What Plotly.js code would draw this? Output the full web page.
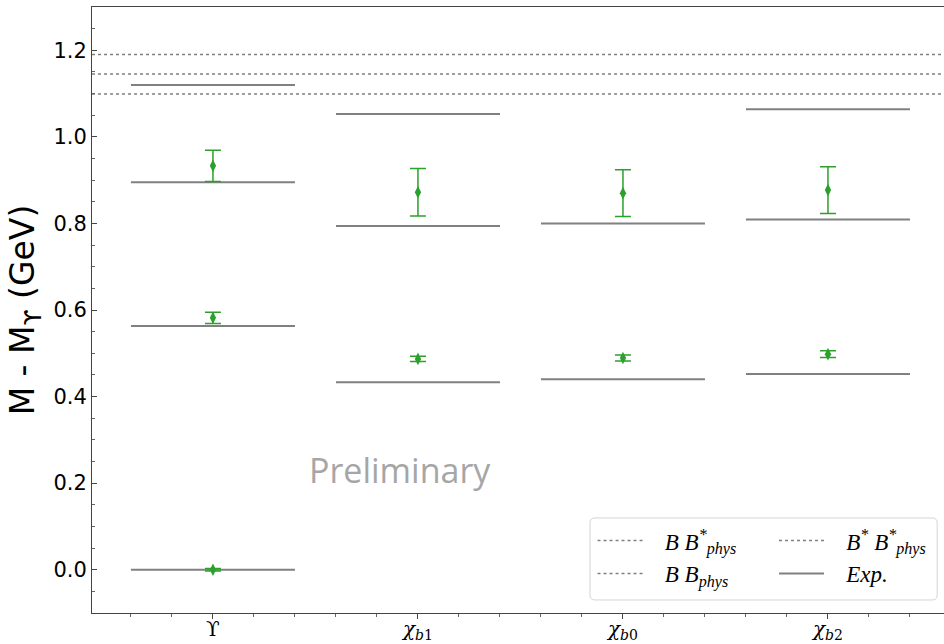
<!DOCTYPE html>
<html>
<head>
<meta charset="utf-8">
<script src="https://cdn.plot.ly/plotly-3.0.1.min.js"></script>
<style>
  html, body { margin: 0; padding: 0; background: #ffffff; }
  #chart { width: 944px; height: 644px; }
</style>
</head>
<body>
<div id="chart"></div>
<script>
// Bottomonium mass splittings M - M_Upsilon (GeV)
const categories = ['Upsilon', 'chi_b1', 'chi_b0', 'chi_b2'];
const tickLabels = [
  'ϒ',
  '<i>χ</i><sub><i>b</i>1</sub>',
  '<i>χ</i><sub><i>b</i>0</sub>',
  '<i>χ</i><sub><i>b</i>2</sub>'
];

// experimental levels per channel
const expUpsilon = [0.000, 0.563, 0.895, 1.120];
const expChib1 = [0.433, 0.794, 1.053];
const expChib0 = [0.440, 0.800];
const expChib2 = [0.452, 0.809, 1.064];

// lattice results and uncertainties per channel
const latUpsilon = [0.000, 0.582, 0.933];
const errUpsilon = [0.003, 0.013, 0.036];
const latChib1 = [0.487, 0.872];
const errChib1 = [0.006, 0.055];
const latChib0 = [0.489, 0.870];
const errChib0 = [0.007, 0.054];
const latChib2 = [0.498, 0.877];
const errChib2 = [0.008, 0.054];

// open-bottom thresholds
const thrBBstar = 1.145;
const thrBstarBstar = 1.190;
const thrBB = 1.099;

const xRange = [-0.59, 3.566];
const halfWidth = 0.4;
const grey = '#808080';
const green = '#2ca02c';

const expSets = [expUpsilon, expChib1, expChib0, expChib2];
const latSets = [latUpsilon, latChib1, latChib0, latChib2];
const errSets = [errUpsilon, errChib1, errChib0, errChib2];

// experimental levels drawn as short horizontal segments around each channel
const expX = [], expY = [];
expSets.forEach((levels, i) => {
  levels.forEach(v => {
    expX.push(i - halfWidth, i + halfWidth, null);
    expY.push(v, v, null);
  });
});

const latX = [], latY = [], latErr = [];
latSets.forEach((vals, i) => {
  vals.forEach((v, k) => {
    latX.push(i);
    latY.push(v);
    latErr.push(errSets[i][k]);
  });
});

// small gap between legend sample and its label
const pad = '\u00a0\u00a0\u00a0';

function thresholdTrace(value, label, legendId) {
  return {
    type: 'scatter', mode: 'lines',
    x: xRange, y: [value, value],
    name: pad + label, legend: legendId,
    line: { color: grey, width: 1.5, dash: 'dot' },
    hoverinfo: 'skip'
  };
}

const traces = [
  thresholdTrace(thrBBstar, '<i>B B<sup>*</sup><sub>phys</sub></i>', 'legend'),
  thresholdTrace(thrBB, '<i>B B<sub>phys</sub></i>', 'legend'),
  thresholdTrace(thrBstarBstar, '<i>B<sup>*</sup> B<sup>*</sup><sub>phys</sub></i>', 'legend2'),
  {
    type: 'scatter', mode: 'lines',
    x: expX, y: expY, name: pad + '<i>Exp.</i>', legend: 'legend2',
    line: { color: grey, width: 2 },
    connectgaps: false
  },
  {
    type: 'scatter', mode: 'markers',
    x: latX, y: latY, showlegend: false,
    marker: { symbol: 'diamond-tall', size: 9, color: green },
    error_y: { type: 'data', array: latErr, visible: true, color: green, thickness: 1.5, width: 8 }
  }
];

// legend frame (paper coordinates), rounded corners
const plotW = 852, plotH = 606;
const bx0 = 0.5845, bx1 = 0.992, by0 = 0.0215, by1 = 0.1568;
const rx = 5 / plotW, ry = 5 / plotH;
const framePath =
  `M${bx0 + rx},${by0} L${bx1 - rx},${by0} Q${bx1},${by0} ${bx1},${by0 + ry} ` +
  `L${bx1},${by1 - ry} Q${bx1},${by1} ${bx1 - rx},${by1} ` +
  `L${bx0 + rx},${by1} Q${bx0},${by1} ${bx0},${by1 - ry} ` +
  `L${bx0},${by0 + ry} Q${bx0},${by0} ${bx0 + rx},${by0} Z`;

const legendCommon = {
  orientation: 'v',
  yanchor: 'top', y: 0.155,
  xanchor: 'left',
  bgcolor: 'rgba(0,0,0,0)', borderwidth: 0,
  font: { family: 'Liberation Serif', size: 23, color: '#000' },
  itemwidth: 45,
  tracegroupgap: 0,
  traceorder: 'normal'
};

const layout = {
  width: 944, height: 644,
  margin: { l: 92, r: 0, t: 7, b: 31 },
  paper_bgcolor: '#ffffff', plot_bgcolor: '#ffffff',
  font: { family: 'DejaVu Sans', color: '#000000' },
  showlegend: true,
  xaxis: {
    range: xRange,
    tickvals: [0, 1, 2, 3],
    ticktext: tickLabels,
    tickfont: { family: 'DejaVu Serif', size: 20, color: '#000' },
    ticks: 'outside', ticklen: 5, tickcolor: '#444', tickwidth: 1,
    ticklabelstandoff: -7,
    minor: { dtick: 0.2, tick0: 0, ticks: 'outside', ticklen: 3, tickcolor: '#666' },
    showgrid: false, zeroline: false,
    showline: true, linecolor: '#444', linewidth: 1, mirror: true
  },
  yaxis: {
    range: [-0.1, 1.3],
    dtick: 0.2, tick0: 0, tickformat: '.1f',
    tickfont: { family: 'DejaVu Sans', size: 21, color: '#000' },
    ticks: 'inside', ticklen: 5, tickcolor: '#444',
    minor: { dtick: 0.05, tick0: 0, ticks: 'inside', ticklen: 3, tickcolor: '#666' },
    showgrid: false, zeroline: false,
    showline: true, linecolor: '#444', linewidth: 1,
    title: { text: 'M - M<sub>ϒ</sub> (GeV)', font: { family: 'DejaVu Sans', size: 33, color: '#000' }, standoff: 8 }
  },
  legend: Object.assign({}, legendCommon, { x: 0.5875 }),
  legend2: Object.assign({}, legendCommon, { x: 0.8005 }),
  shapes: [{
    type: 'path', xref: 'paper', yref: 'paper', path: framePath,
    fillcolor: '#ffffff', line: { color: '#d4d4d4', width: 1 }, layer: 'above'
  }],
  annotations: [{
    text: 'Preliminary',
    x: 0.912, y: 0.231, xref: 'x', yref: 'y',
    showarrow: false,
    font: { family: 'Open Sans', size: 34, color: '#a6a6a6' }
  }]
};

Plotly.newPlot('chart', traces, layout, { displayModeBar: false, staticPlot: true });
</script>
</body>
</html>
